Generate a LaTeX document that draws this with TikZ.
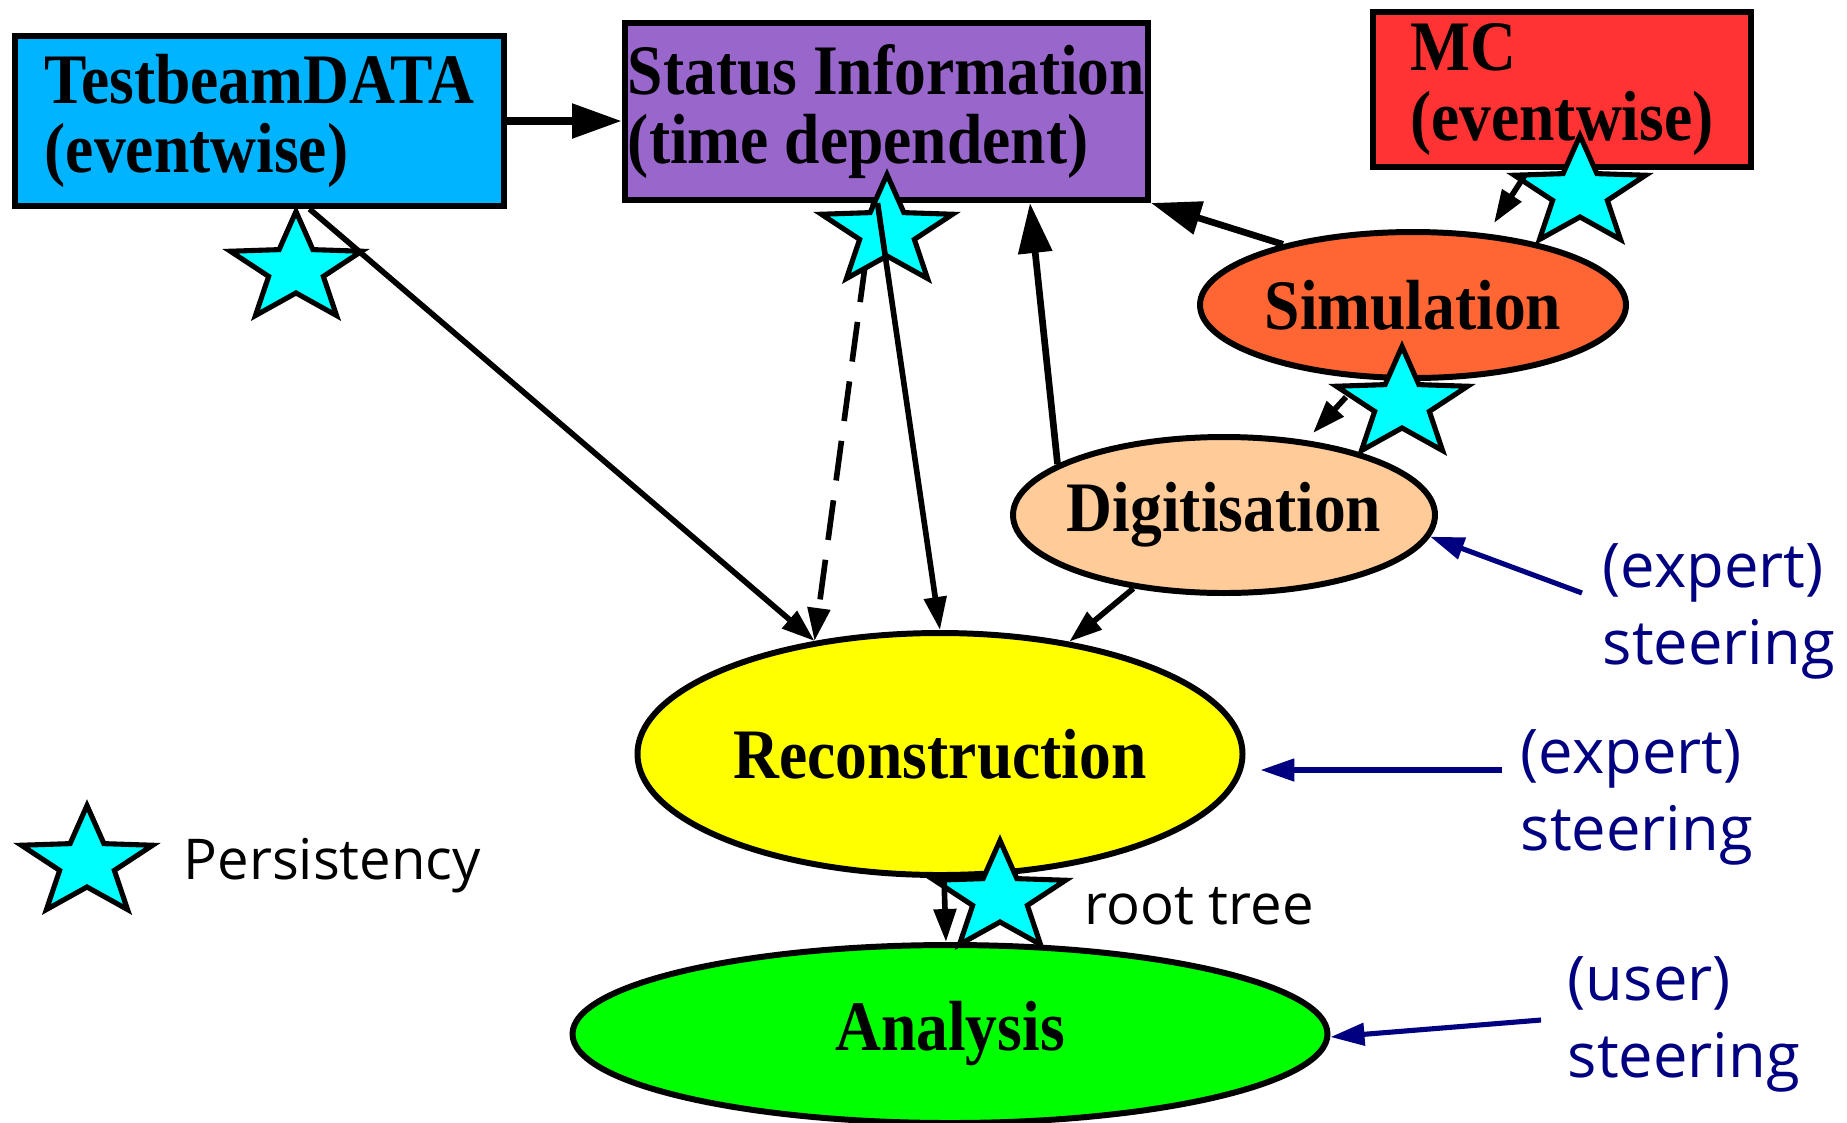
\documentclass[tikz,border=0pt]{standalone}
\usepackage{fontspec}
\usetikzlibrary{shapes.geometric,arrows.meta}
\newfontfamily\boxfont[FakeStretch=0.895]{Liberation Serif}
\newfontfamily\handfont{Open Sans}
\definecolor{tbblue}{RGB}{0,180,255}
\definecolor{statpurple}{RGB}{153,102,204}
\definecolor{mcred}{RGB}{255,51,51}
\definecolor{simorange}{RGB}{255,102,51}
\definecolor{digpeach}{RGB}{255,204,153}
\definecolor{recyellow}{RGB}{255,255,0}
\definecolor{anagreen}{RGB}{0,255,0}
\definecolor{starcyan}{RGB}{0,255,255}
\definecolor{steerblue}{RGB}{0,0,128}
\begin{document}
\begin{tikzpicture}[
  databox/.style={draw,line width=1.7pt,align=left,inner sep=0pt,font=\boxfont\bfseries\fontsize{20.2}{19.8}\selectfont},
  stage/.style={ellipse,draw,line width=1.7pt,inner sep=0pt,font=\boxfont\bfseries\fontsize{20.2}{19.8}\selectfont},
  persist/.style={star,star points=5,star point ratio=2.4,draw,fill=starcyan,line width=1.45pt,minimum size=1.15cm,inner sep=0pt,xscale=1.2,transform shape},
  bigflow/.style={line width=1.9pt,-{Triangle[length=0.5cm,width=0.33cm]}},
  flow/.style={line width=1.6pt,-{Triangle[length=0.33cm,width=0.22cm]}},
  steer/.style={steerblue,line width=1.45pt,-{Triangle[length=0.34cm,width=0.22cm]}},
  hand/.style={font=\handfont\fontsize{16}{20}\selectfont,inner sep=0pt},
  steertext/.style={steerblue,align=left,inner sep=0pt,font=\handfont\fontsize{17.5}{21.9}\selectfont}]
\useasboundingbox (0,0) rectangle (18.47,-11.22);
\node[databox,fill=tbblue,minimum width=4.89cm,minimum height=1.70cm] (tb) at (2.595,-1.21) {TestbeamDATA\\(eventwise)};
\node[databox,fill=statpurple,minimum width=5.23cm,minimum height=1.77cm] (stat) at (8.865,-1.115) {Status Information\\(time dependent)};
\node[databox,fill=mcred,minimum width=3.78cm,minimum height=1.55cm] (mc) at (15.62,-0.895) {MC\\(eventwise)};
\node[stage,fill=simorange,minimum width=4.26cm,minimum height=1.46cm] (sim) at (14.13,-3.05) {Simulation};
\node[stage,fill=digpeach,minimum width=4.22cm,minimum height=1.56cm,inner xsep=-3pt] (dig) at (12.24,-5.15) {Digitisation};
\node[stage,fill=recyellow,minimum width=6.05cm,minimum height=2.42cm] (reco) at (9.40,-7.54) {Reconstruction};
\node[stage,fill=anagreen,minimum width=7.55cm,minimum height=1.78cm] (ana) at (9.50,-10.34) {Analysis};
\draw[flow,dash pattern=on 0.4cm off 0.2cm] ([xshift=-0.13cm]stat.south) -- (reco.138);
\node[persist] (ptb) at (2.96,-2.69) {};
\node[persist] (pstat) at (8.87,-2.32) {};
\node[persist] (pmc) at (15.80,-1.93) {};
\node[persist] (psim) at (14.02,-4.04) {};
\node[persist] (preco) at (10.00,-8.98) {};
\node[persist] (pkey) at (0.87,-8.63) {};
\draw[bigflow,line width=2.4pt] (tb.east) -- (tb.east -| stat.west);
\draw[flow] ([xshift=0.5cm]tb.south) -- (reco.138);
\draw[flow] ([xshift=-0.09cm]stat.south) -- (reco.north);
\draw[bigflow] (dig.163) -- ([xshift=-1.21cm]stat.south east);
\draw[bigflow] (sim.155) -- (stat.south east);
\draw[flow] ([shift={(-0.37,-0.855)}]mc.center) -- ([shift={(0.81,0.82)}]sim.center);
\draw[flow] ([shift={(-0.67,-0.92)}]sim.center) -- ([shift={(0.89,0.82)}]dig.center);
\draw[flow] (dig.219) -- (reco.41);
\draw[flow] ([xshift=0.04cm]reco.south) -- ([xshift=-0.04cm]ana.north);
\node[hand,anchor=west] (key) at (1.83,-8.66) {Persistency};
\node[hand,anchor=west] (rt) at (10.84,-9.06) {root tree};
\node[steertext,anchor=west] (st1) at (16.02,-6.11) {(expert)\\steering};
\node[steertext,anchor=west] (st2) at (15.20,-7.97) {(expert)\\steering};
\node[steertext,anchor=west] (st3) at (15.67,-10.24) {(user)\\steering};
\draw[steer] ([shift={(-0.2,0.18)}]st1.west) -- (dig.-6);
\coordinate (t2) at ([shift={(-0.18,0.27)}]st2.west);
\draw[steer,shorten >=0.15cm] (t2) -- (t2 -| reco.east);
\draw[steer] ([shift={(-0.26,0.04)}]st3.west) -- ([yshift=-0.03cm]ana.east);
\end{tikzpicture}
\end{document}
